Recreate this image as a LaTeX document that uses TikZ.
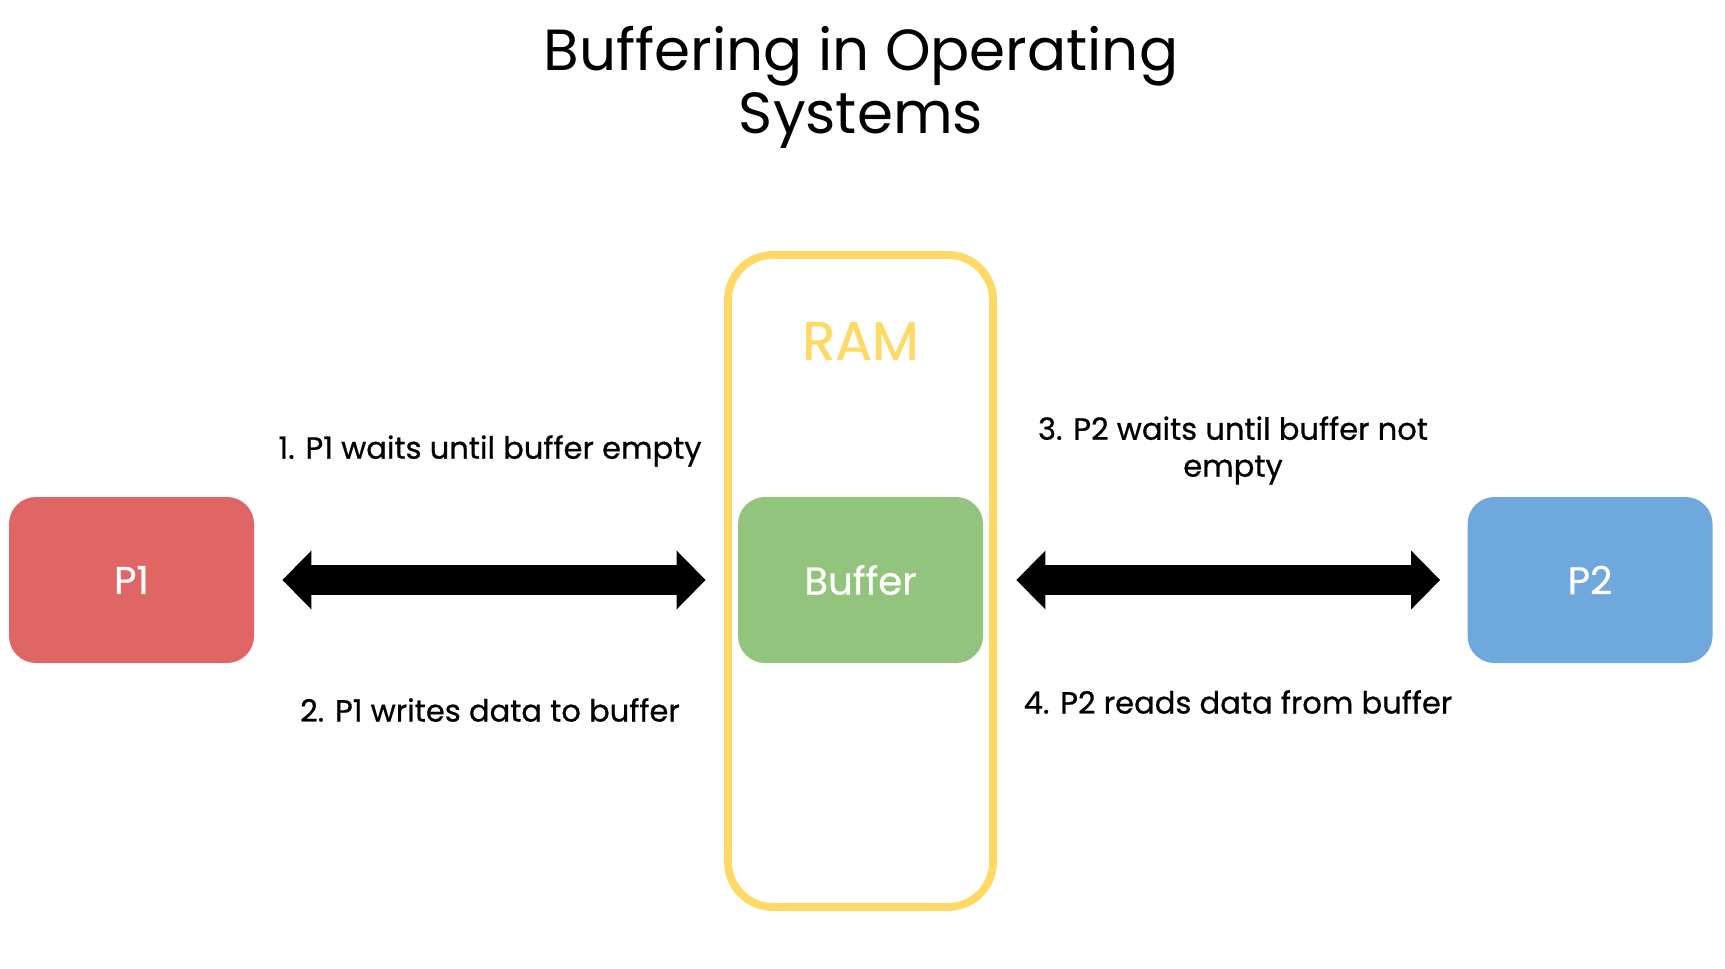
\documentclass[tikz,border=0pt]{standalone}
\usepackage{fontspec}
\setmainfont{Poppins}
\newfontfamily\medfont{Poppins}[FakeBold=0.7]
\usepackage{tikz}
\usetikzlibrary{positioning}
\usetikzlibrary{arrows.meta}

\definecolor{procred}{HTML}{E06666}
\definecolor{procblue}{HTML}{6FA8DC}
\definecolor{bufgreen}{HTML}{93C47D}
\definecolor{ramyellow}{HTML}{FFD966}

\tikzset{
	proc/.style={rounded corners=0.54cm, minimum width=4.9cm, minimum height=3.32cm,
		text=white, font=\medfont\fontsize{22}{26}\selectfont},
	bigarrow/.style={line width=17pt, {Triangle[length=0.58cm,width=1.14cm]}-{Triangle[length=0.58cm,width=1.14cm]}},
	steplabel/.style={align=center, font=\medfont\fontsize{17.4}{21}\selectfont}
}

\begin{document}
\begin{tikzpicture}

	\useasboundingbox (0,0) rectangle (34.5,-19.38);

	% title
	\node[align=center, font=\fontsize{33}{36}\selectfont] (title) at (17.22,-1.75) {Buffering in Operating\\Systems};

	% memory
	\node[draw=ramyellow, line width=4.5pt, rounded corners=0.9cm,
		minimum width=5.3cm, minimum height=13.04cm] (ram) at (17.21,-11.62) {};
	\node[text=ramyellow, font=\medfont\fontsize{31}{36}\selectfont] (ramlabel) at (17.21,-6.82) {RAM};

	% processes and buffer
	\node[proc, fill=procred] (p1) at (2.63,-11.6) {P1};
	\node[proc, fill=bufgreen] (buffer) at (17.21,-11.6) {Buffer};
	\node[proc, fill=procblue] (p2) at (31.8,-11.6) {P2};

	% transfers
	\draw[bigarrow, shorten <=0.56cm, shorten >=0.64cm] (p1.east) -- (buffer.west);
	\draw[bigarrow, shorten <=0.66cm, shorten >=0.54cm] (buffer.east) -- (p2.west);

	\node[steplabel] (waitempty) at (9.8,-9.02) {1. P1 waits until buffer empty};
	\node[steplabel] (write) at (9.8,-14.2) {2. P1 writes data to buffer};
	\node[steplabel] (waitfull) at (24.66,-9.01) {3. P2 waits until buffer not\\empty};
	\node[steplabel] (read) at (24.76,-14.04) {4. P2 reads data from buffer};

\end{tikzpicture}
\end{document}
